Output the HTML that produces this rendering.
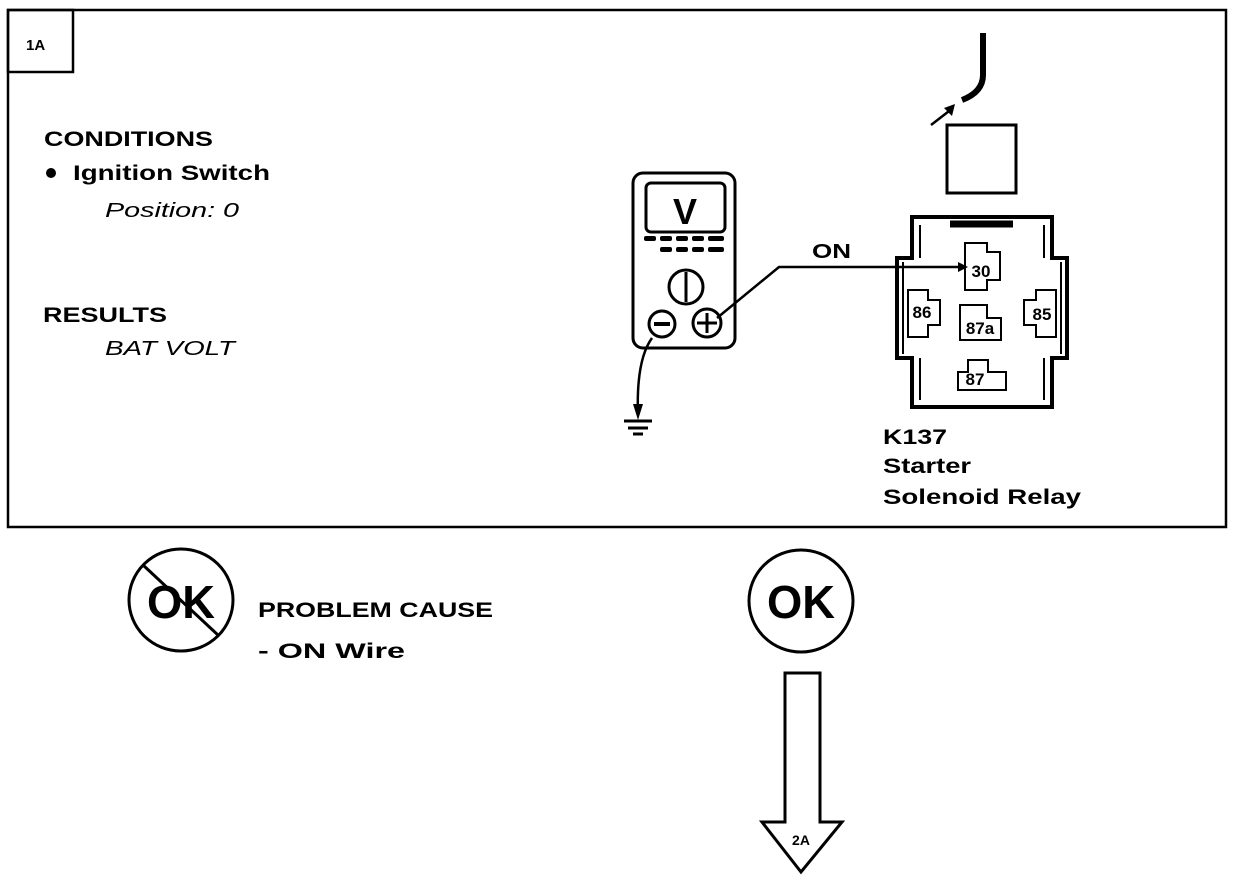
<!DOCTYPE html>
<html><head><meta charset="utf-8"><style>
html,body{margin:0;padding:0;background:#fff}
svg{display:block}
text{font-family:"Liberation Sans",Arial,sans-serif;fill:#000}
.b{font-weight:bold}
</style></head><body>
<svg width="1248" height="880" viewBox="0 0 1248 880" xmlns="http://www.w3.org/2000/svg">
<g fill="none" stroke="#000" stroke-width="2.5">
<rect x="8" y="10" width="1218" height="517"/>
<rect x="8" y="10" width="65" height="62"/>
</g>
<text x="26" y="50" class="b" font-size="15">1A</text>
<text x="44" y="146" class="b" font-size="21" textLength="169" lengthAdjust="spacingAndGlyphs">CONDITIONS</text>
<circle cx="51" cy="173" r="5" fill="#000"/>
<text x="73" y="180" class="b" font-size="21" textLength="197" lengthAdjust="spacingAndGlyphs">Ignition  Switch</text>
<text x="105" y="217" font-style="italic" font-size="20" textLength="134" lengthAdjust="spacingAndGlyphs">Position:  0</text>
<text x="43" y="322" class="b" font-size="21" textLength="124" lengthAdjust="spacingAndGlyphs">RESULTS</text>
<text x="105" y="355" font-style="italic" font-size="20" textLength="130" lengthAdjust="spacingAndGlyphs">BAT VOLT</text>

<!-- multimeter -->
<g fill="none" stroke="#000" stroke-width="3">
<rect x="633" y="173" width="102" height="175" rx="10"/>
<rect x="646" y="183" width="79" height="49" rx="5"/>
<circle cx="686" cy="287" r="17"/>
<line x1="686" y1="272" x2="686" y2="302"/>
<circle cx="662" cy="324" r="13"/>
<line x1="654" y1="324" x2="670" y2="324" stroke-width="4"/>
<circle cx="707" cy="323" r="14"/>
<line x1="697" y1="323" x2="717" y2="323"/>
<line x1="707" y1="313" x2="707" y2="333"/>
<polyline points="717,318 779,267 965,267" stroke-width="2.5"/>
<path d="M652,338 Q636,360 638,415" stroke-width="2.5"/>
<line x1="624" y1="421" x2="652" y2="421"/>
<line x1="628" y1="428" x2="648" y2="428"/>
<line x1="633" y1="434" x2="643" y2="434"/>
</g>
<text x="685" y="224" class="b" font-size="36" text-anchor="middle">V</text>
<g fill="#000">
<rect x="644" y="236" width="12" height="5" rx="2"/><rect x="660" y="236" width="12" height="5" rx="2"/><rect x="676" y="236" width="12" height="5" rx="2"/><rect x="692" y="236" width="12" height="5" rx="2"/><rect x="708" y="236" width="16" height="5" rx="2"/>
<rect x="660" y="247" width="12" height="5" rx="2"/><rect x="676" y="247" width="12" height="5" rx="2"/><rect x="692" y="247" width="12" height="5" rx="2"/><rect x="708" y="247" width="16" height="5" rx="2"/>
<polygon points="958,262 968,267 958,272"/>
<polygon points="633,404 643,404 638,420"/>
</g>
<text x="812" y="258" class="b" font-size="20" textLength="39" lengthAdjust="spacingAndGlyphs">ON</text>

<!-- top wire -->
<g fill="none" stroke="#000">
<path d="M983,33 L983,75 Q983,92 962,100" stroke-width="6"/>
<line x1="931" y1="125" x2="953" y2="108" stroke-width="2.5"/>
<rect x="947" y="125" width="69" height="68" stroke-width="3"/>
</g>
<polygon points="955,104 944,108 952,116" fill="#000"/>

<!-- relay -->
<g fill="none" stroke="#000">
<path d="M912,258 V217 H1052 V258 H1067 V358 H1052 V407 H912 V358 H897 V258 Z" stroke-width="4"/>
<path d="M920,258 V225 M1044,258 V225 M920,358 V400 M1044,358 V400 M903,262 V354 M1061,262 V354" stroke-width="2"/>
<line x1="950" y1="224" x2="1013" y2="224" stroke-width="7"/>
<g stroke-width="2">
<path d="M965,243 H987 V252 H1000 V280 H987 V290 H965 Z"/>
<path d="M908,290 H928 V300 H940 V325 H928 V337 H908 Z"/>
<path d="M960,318 V305 H987 V318 H1001 V340 H960 Z"/>
<path d="M1056,290 H1036 V300 H1024 V325 H1036 V337 H1056 Z"/>
<path d="M958,390 V372 H968 V360 H988 V372 H1006 V390 Z"/>
</g>
</g>
<g class="b" font-size="17" text-anchor="middle">
<text x="981" y="277" class="b">30</text>
<text x="922" y="318" class="b">86</text>
<text x="980" y="334" class="b">87a</text>
<text x="1042" y="320" class="b">85</text>
<text x="975" y="385" class="b">87</text>
</g>
<text x="883" y="444" class="b" font-size="21" textLength="64" lengthAdjust="spacingAndGlyphs">K137</text>
<text x="883" y="473" class="b" font-size="21" textLength="88" lengthAdjust="spacingAndGlyphs">Starter</text>
<text x="883" y="504" class="b" font-size="21" textLength="198" lengthAdjust="spacingAndGlyphs">Solenoid  Relay</text>

<!-- bottom -->
<g fill="none" stroke="#000" stroke-width="3">
<ellipse cx="181" cy="600" rx="52" ry="51"/>
<line x1="143" y1="565" x2="219" y2="636"/>
<ellipse cx="801" cy="601" rx="52" ry="51"/>
<path d="M785,673 H820 V822 H842 L801,872 L762,822 H785 Z"/>
</g>
<text x="181" y="618" class="b" font-size="46" text-anchor="middle" textLength="68" lengthAdjust="spacingAndGlyphs">OK</text>
<text x="801" y="618" class="b" font-size="46" text-anchor="middle" textLength="68" lengthAdjust="spacingAndGlyphs">OK</text>
<text x="258" y="617" class="b" font-size="21" textLength="235" lengthAdjust="spacingAndGlyphs">PROBLEM  CAUSE</text>
<text x="258" y="658" class="b" font-size="21" textLength="147" lengthAdjust="spacingAndGlyphs">-  ON  Wire</text>
<text x="801" y="845" class="b" font-size="14" text-anchor="middle">2A</text>
</svg>
</body></html>
